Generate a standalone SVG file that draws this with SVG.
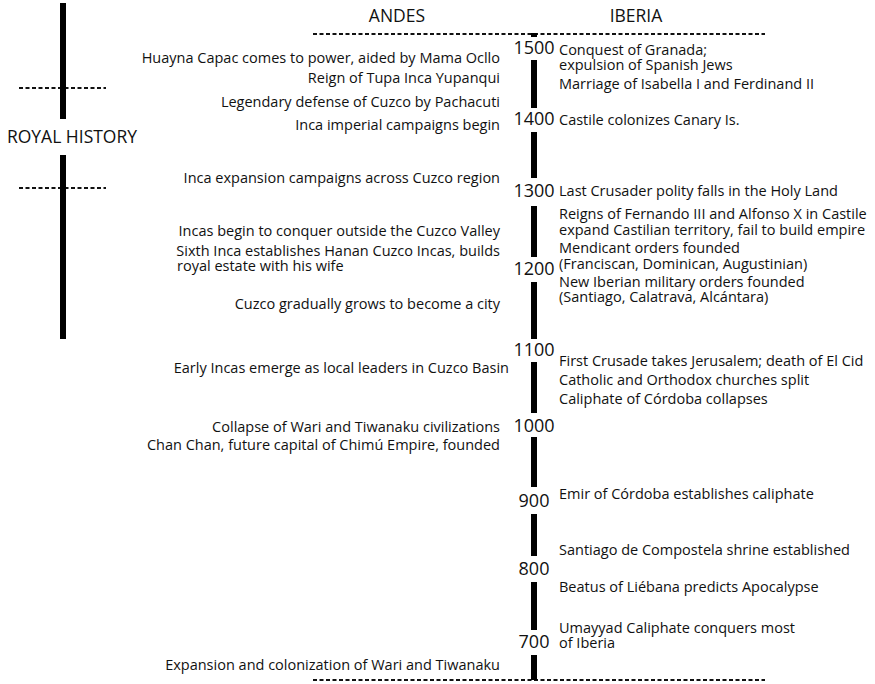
<svg xmlns="http://www.w3.org/2000/svg" width="875" height="684" viewBox="0 0 875 684">
<style>
text{font-family:"Open Sans",Lato,"Liberation Sans",sans-serif;fill:#111}
.ev{font-size:14.5px}
.an{text-anchor:end}
.yr{font-size:18px;text-anchor:middle}
.hd{font-size:17.5px;text-anchor:middle}
.dash{stroke:#111;stroke-width:2;stroke-dasharray:4 2.5;fill:none}
.bar{fill:#000}
</style>
<rect width="875" height="684" fill="#fff"/>
<g id="connectors">
<line class="dash" x1="313" y1="34" x2="765" y2="34"/>
<line class="dash" x1="313" y1="680" x2="765" y2="680"/>
<line class="dash" x1="19" y1="88" x2="106" y2="88"/>
<line class="dash" x1="19" y1="188" x2="106" y2="188"/>
<rect class="bar" x="60" y="3" width="6" height="116"/>
<rect class="bar" x="60" y="155" width="6" height="184"/>
<rect class="bar" x="531" y="33" width="6" height="4"/>
<rect class="bar" x="531" y="60" width="6" height="48"/>
<rect class="bar" x="531" y="132" width="6" height="46"/>
<rect class="bar" x="531" y="206" width="6" height="51"/>
<rect class="bar" x="531" y="282" width="6" height="57"/>
<rect class="bar" x="531" y="362" width="6" height="51"/>
<rect class="bar" x="531" y="437" width="6" height="50"/>
<rect class="bar" x="531" y="514" width="6" height="42"/>
<rect class="bar" x="531" y="582" width="6" height="48"/>
<rect class="bar" x="531" y="655" width="6" height="25"/>
</g>
<g id="headers">
<text class="hd" x="397" y="22">ANDES</text>
<text class="hd" x="636" y="22">IBERIA</text>
<text class="hd" x="72" y="143">ROYAL HISTORY</text>
</g>
<g id="years">
<text class="yr" x="534" y="54">1500</text>
<text class="yr" x="534" y="125">1400</text>
<text class="yr" x="534" y="197">1300</text>
<text class="yr" x="534" y="275">1200</text>
<text class="yr" x="534" y="356">1100</text>
<text class="yr" x="534" y="432">1000</text>
<text class="yr" x="534" y="507">900</text>
<text class="yr" x="534" y="575">800</text>
<text class="yr" x="534" y="648">700</text>
</g>
<g id="andes">
<text class="ev an" x="500" y="63">Huayna Capac comes to power, aided by Mama Ocllo</text>
<text class="ev an" x="500" y="83">Reign of Tupa Inca Yupanqui</text>
<text class="ev an" x="500" y="107">Legendary defense of Cuzco by Pachacuti</text>
<text class="ev an" x="500" y="130">Inca imperial campaigns begin</text>
<text class="ev an" x="500" y="183">Inca expansion campaigns across Cuzco region</text>
<text class="ev an" x="500" y="236">Incas begin to conquer outside the Cuzco Valley</text>
<text class="ev an" x="500" y="256">Sixth Inca establishes Hanan Cuzco Incas, builds</text>
<text x="177" y="271" class="ev">royal estate with his wife</text>
<text class="ev an" x="500" y="309">Cuzco gradually grows to become a city</text>
<text class="ev an" x="509" y="373">Early Incas emerge as local leaders in Cuzco Basin</text>
<text class="ev an" x="500" y="432">Collapse of Wari and Tiwanaku civilizations</text>
<text class="ev an" x="500" y="450">Chan Chan, future capital of Chimú Empire, founded</text>
<text class="ev an" x="500" y="670">Expansion and colonization of Wari and Tiwanaku</text>
</g>
<g id="iberia">
<text class="ev" x="559" y="55">Conquest of Granada;</text>
<text class="ev" x="559" y="70">expulsion of Spanish Jews</text>
<text class="ev" x="559" y="89">Marriage of Isabella I and Ferdinand II</text>
<text class="ev" x="559" y="125">Castile colonizes Canary Is.</text>
<text class="ev" x="559" y="196">Last Crusader polity falls in the Holy Land</text>
<text class="ev" x="559" y="219">Reigns of Fernando III and Alfonso X in Castile</text>
<text class="ev" x="559" y="235">expand Castilian territory, fail to build empire</text>
<text class="ev" x="559" y="253">Mendicant orders founded</text>
<text class="ev" x="559" y="269">(Franciscan, Dominican, Augustinian)</text>
<text class="ev" x="559" y="287">New Iberian military orders founded</text>
<text class="ev" x="559" y="302">(Santiago, Calatrava, Alcántara)</text>
<text class="ev" x="559" y="366">First Crusade takes Jerusalem; death of El Cid</text>
<text class="ev" x="559" y="385">Catholic and Orthodox churches split</text>
<text class="ev" x="559" y="404">Caliphate of Córdoba collapses</text>
<text class="ev" x="559" y="499">Emir of Córdoba establishes caliphate</text>
<text class="ev" x="559" y="555">Santiago de Compostela shrine established</text>
<text class="ev" x="559" y="592">Beatus of Liébana predicts Apocalypse</text>
<text class="ev" x="559" y="633">Umayyad Caliphate conquers most</text>
<text class="ev" x="559" y="648">of Iberia</text>
</g>
</svg>
